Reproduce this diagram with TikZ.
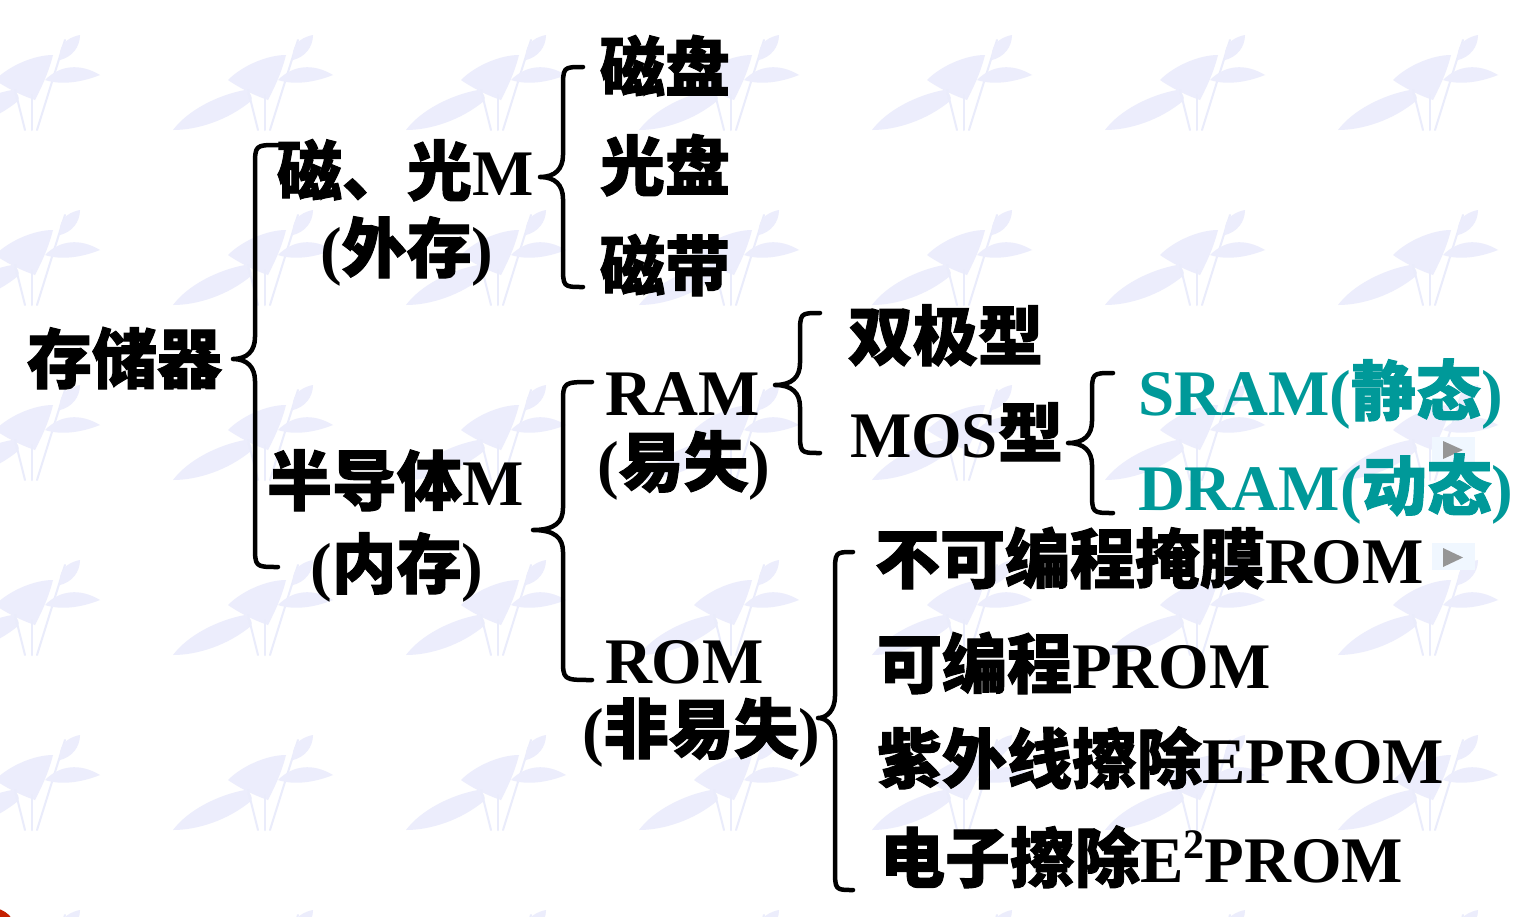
\documentclass[tikz,border=0pt]{standalone}
\usepackage{fontspec}
\setmainfont{Liberation Serif}
\newfontfamily\cjk{Noto Sans CJK SC}[BoldFeatures={FakeBold=1.5}]
\newcommand\zh[1]{{\cjk\bfseries #1}}
\definecolor{memteal}{RGB}{0,153,153}
\definecolor{wmleaf}{RGB}{236,237,252}
\definecolor{wmstem}{RGB}{234,236,251}
\definecolor{btnbg}{RGB}{240,247,255}
\definecolor{btntri}{RGB}{150,150,150}
\definecolor{cornerred}{RGB}{196,32,0}

% one curly brace: tip (#1,#2), spine at x=#3, ends at y=#4 and y=#5, hooks reach x=#6
\newcommand\membrace[6]{%
  \draw[bracestyle] (#6,#4) .. controls (#3,#4) .. (#3,#4+22)
    -- (#3,#2-22) .. controls (#3,#2-8) and (#3-8,#2) .. (#1,#2)
    .. controls (#3-8,#2) and (#3,#2+8) .. (#3,#2+22)
    -- (#3,#5-22) .. controls (#3,#5) .. (#6,#5);}

\tikzset{
  lbl/.style={anchor=base west, inner sep=0pt, outer sep=0pt,
              font=\fontsize{65}{65}\selectfont\bfseries},
  bracestyle/.style={line width=4.5pt, line cap=round, line join=round, black},
  leaf/.style={fill=wmleaf, draw=none},
  stem/.style={draw=wmstem, line width=2pt, line cap=round},
}

\begin{document}
\begin{tikzpicture}[x=1pt,y=-1pt]
\useasboundingbox (0,0) rectangle (1528,916);
\fill[white] (0,0) rectangle (1528,916);

% faint background motif, tiled
\begin{scope}
\clip (0,0) rectangle (1528,916);
\foreach \i in {0,...,7}{
  \foreach \j in {0,...,5}{
    \begin{scope}[shift={(-60+233*\i,35+175*\j)}]
      \fill[leaf] (0,95) .. controls (15,75) and (45,60) .. (72,55)
        .. controls (78,58) and (80,62) .. (78,66)
        .. controls (55,85) and (25,95) .. (0,95) -- cycle;
      \fill[leaf] (55,45) .. controls (70,30) and (95,20) .. (113,20)
        .. controls (108,40) and (100,55) .. (95,65)
        .. controls (80,60) and (65,52) .. (55,45) -- cycle;
      \draw[stem] (85,95) -- (75,55);
      \draw[stem] (92,95) -- (92,60);
      \draw[stem] (97,95) -- (125,5);
      \fill[leaf] (105,45) .. controls (120,30) and (140,28) .. (160,40)
        .. controls (140,48) and (120,50) .. (105,45) -- cycle;
      \fill[leaf] (120,25) .. controls (118,12) and (125,3) .. (140,0)
        .. controls (140,12) and (132,22) .. (120,25) -- cycle;
    \end{scope}
  }
}
\fill[cornerred] (-8,932) circle (24);
\end{scope}

% small navigation buttons
\fill[btnbg] (1432,437) rectangle (1475,462);
\fill[btntri] (1443,441) -- (1463,450) -- (1443,459) -- cycle;
\fill[btnbg] (1432,543) rectangle (1475,570);
\fill[btntri] (1443,548) -- (1463,557.5) -- (1443,567) -- cycle;

% level 0
\node[lbl] (mem) at (27,383) {\zh{存储器}};

% level 1
\node[lbl] (mag)  at (277,195) {\zh{磁、光}M};
\node[lbl] (ext)  at (320,272) {(\zh{外存})};
\node[lbl] (semi) at (267,505) {\zh{半导体}M};
\node[lbl] (int)  at (310,588) {(\zh{内存})};

% magnetic / optical
\node[lbl] (disk) at (600,91)  {\zh{磁盘}};
\node[lbl] (cd)   at (600,190) {\zh{光盘}};
\node[lbl] (tape) at (600,290) {\zh{磁带}};

% semiconductor
\node[lbl] (ram)  at (605,415) {RAM};
\node[lbl] (vol)  at (597,486) {(\zh{易失})};
\node[lbl] (rom)  at (605,683) {ROM};
\node[lbl] (nvol) at (582,753) {(\zh{非易失})};

% RAM types
\node[lbl] (bip)  at (848,360) {\zh{双极型}};
\node[lbl] (mos)  at (850,457) {MOS\zh{型}};
\node[lbl, text=memteal] (sram) at (1138,415) {SRAM(\zh{静态})};
\node[lbl, text=memteal] (dram) at (1138,510) {DRAM(\zh{动态})};

% ROM types
\node[lbl] (mrom)   at (875,583) {\zh{不可编程掩膜}ROM};
\node[lbl] (prom)   at (877,688) {\zh{可编程}PROM};
\node[lbl] (eprom)  at (877,783) {\zh{紫外线擦除}EPROM};
\node[lbl] (eeprom) at (880,882) {\zh{电子擦除}E\raisebox{0.36em}{\fontsize{42}{42}\selectfont 2}PROM};

% braces
\membrace{233}{359}{255}{145}{567}{278}
\membrace{540}{177}{563}{67}{287}{583}
\membrace{533}{530}{563}{382}{680}{592}
\membrace{775}{385}{800}{313}{453}{820}
\membrace{1068}{443}{1092}{373}{513}{1113}
\membrace{818}{718}{835}{552}{890}{853}
\end{tikzpicture}
\end{document}
